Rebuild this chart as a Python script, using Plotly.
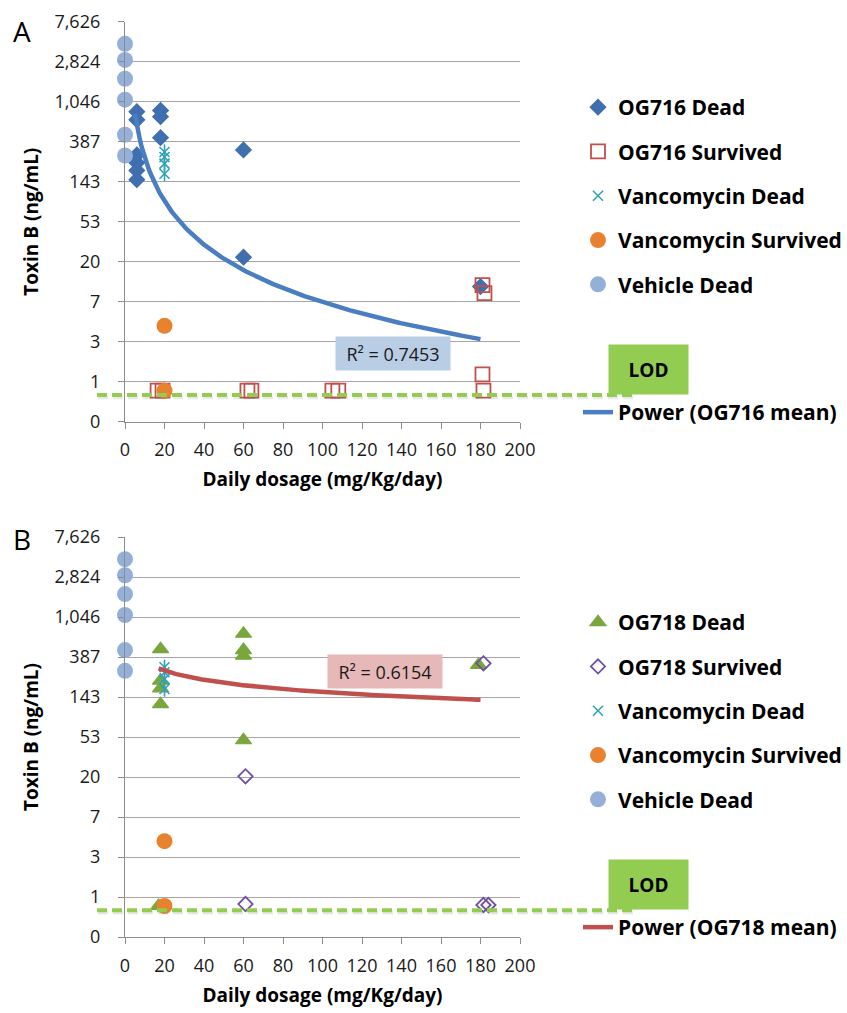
import numpy as np
import plotly.graph_objects as go

W, H = 847, 1013

# ---- data: daily dose (mg/Kg/day) vs toxin B (ng/mL) ----
vehicle_dose = [0, 0, 0, 0, 0, 0]
vehicle_toxin = [4400, 2950, 1850, 1100, 460, 275]

vanco_dead_dose = [20, 20, 20, 20]
vanco_dead_toxin = [300, 265, 225, 175]
vanco_surv_dose = [20, 20]
vanco_surv_toxin = [4, 0.8]

og716_dead_dose = [6, 6, 6, 6, 6, 6, 18, 18, 18, 60, 60, 180]
og716_dead_toxin = [816, 668, 279, 230, 190, 151, 841, 722, 428, 316, 22, 10.6]
og716_surv_dose = [16.5, 19, 62, 64, 105, 108, 181, 182, 181, 181.5]
og716_surv_toxin = [0.8, 0.8, 0.8, 0.8, 0.8, 0.8, 11, 9, 1.2, 0.8]

og718_dead_dose = [18, 18, 18, 18, 17, 60, 60, 60, 60, 179]
og718_dead_toxin = [470, 215, 178, 120, 0.8, 690, 460, 400, 49, 318]
og718_surv_dose = [61, 61, 181.5, 181.5, 184]
og718_surv_toxin = [20, 0.84, 331, 0.82, 0.82]

# power trendlines  y = a * x^b  fitted to the group means
og716_fit = {"a": 9500, "b": -1.56, "x0": 5, "x1": 180, "r2": "0.7453"}
og718_fit = {"a": 742, "b": -0.33, "x0": 17, "x1": 180, "r2": "0.6154"}

lod_value = 0.72

# log axis with base 2.7
log_base = 2.7
tick_exp = list(range(-1, 10))
tick_text = ["0", "1", "3", "7", "20", "53", "143", "387", "1,046", "2,824", "7,626"]
x_ticks = list(range(0, 201, 20))

# ---- styling ----
FONT = "Open Sans"
C_OG716 = "#3F6FAE"
C_OG716_S = "#C0504D"
C_VANCO_D = "#2FA3B8"
C_VANCO_S = "#E8822E"
C_VEH = "#95B0D8"
C_OG718 = "#7AA63E"
C_OG718_S = "#7050A0"
C_FIT_A = "#4A7EC0"
C_FIT_B = "#C0504D"
C_LOD = "#92CC50"
GRID = "#A6A6A6"
AXIS = "#8C8C8C"

x_dom = [125 / W, 520 / W]
panels = {
    "A": {"y_dom": [1 - 421.7 / H, 1 - 21.7 / H], "xa": "x", "ya": "y"},
    "B": {"y_dom": [1 - 937 / H, 1 - 537 / H], "xa": "x2", "ya": "y2"},
}
y_range = [np.log10(log_base ** tick_exp[0]), np.log10(log_base ** tick_exp[-1])]


def py(px):
    return 1 - px / H


def px_x(px):
    return px / W


def value_to_paper(v, dom):
    f = (np.log10(v) - y_range[0]) / (y_range[1] - y_range[0])
    return dom[0] + f * (dom[1] - dom[0])


fig = go.Figure()


def add_panel(xa, ya, legend, og_dead_dose, og_dead_tox, og_surv_dose, og_surv_tox,
              dead_name, surv_name, dead_sym, surv_sym, dead_col, surv_col, dead_size, surv_size,
              fit, fit_col, fit_name, fit_legend):
    def sc(**kw):
        fig.add_trace(go.Scatter(mode="markers", xaxis=xa, yaxis=ya, cliponaxis=False,
                                 legend=legend, **kw))

    sc(x=og_dead_dose, y=og_dead_tox, name=dead_name, legendgroup=legend + "1",
       marker=dict(symbol=dead_sym, size=dead_size, color=dead_col,
                   line=dict(width=1.2, color=dead_col)))
    sc(x=og_surv_dose, y=og_surv_tox, name=surv_name, legendgroup=legend + "2",
       marker=dict(symbol=surv_sym, size=surv_size, color=surv_col,
                   line=dict(width=1.8, color=surv_col)))
    sc(x=vanco_dead_dose, y=vanco_dead_toxin, name="Vancomycin Dead", legendgroup=legend + "3",
       marker=dict(symbol="x-thin-open", size=10, color=C_VANCO_D,
                   line=dict(width=1.6, color=C_VANCO_D)))
    sc(x=vanco_dead_dose, y=vanco_dead_toxin, showlegend=False, legendgroup=legend + "3",
       marker=dict(symbol="line-ns-open", size=11, color=C_VANCO_D,
                   line=dict(width=1.6, color=C_VANCO_D)))
    sc(x=vanco_surv_dose, y=vanco_surv_toxin, name="Vancomycin Survived", legendgroup=legend + "4",
       marker=dict(symbol="circle", size=16, color=C_VANCO_S))
    sc(x=vehicle_dose, y=vehicle_toxin, name="Vehicle Dead", legendgroup=legend + "5",
       marker=dict(symbol="circle", size=16, color=C_VEH))

    xs = np.linspace(fit["x0"], fit["x1"], 200)
    fig.add_trace(go.Scatter(x=xs, y=fit["a"] * xs ** fit["b"], mode="lines", xaxis=xa, yaxis=ya,
                             name=fit_name, legend=fit_legend,
                             line=dict(color=fit_col, width=4.5)))


add_panel("x", "y", "legend", og716_dead_dose, og716_dead_toxin, og716_surv_dose, og716_surv_toxin,
          "OG716 Dead", "OG716 Survived", "diamond", "square-open", C_OG716, C_OG716_S, 12, 14,
          og716_fit, C_FIT_A, "Power (OG716 mean)", "legend3")
add_panel("x2", "y2", "legend2", og718_dead_dose, og718_dead_toxin, og718_surv_dose, og718_surv_toxin,
          "OG718 Dead", "OG718 Survived", "triangle-up", "diamond-open", C_OG718, C_OG718_S, 14, 11,
          og718_fit, C_FIT_B, "Power (OG718 mean)", "legend4")

axis_font = dict(family=FONT, size=18, color="#1A1A1A")
title_font = dict(family=FONT, size=19, color="#000000", weight="bold")

layout = dict(
    width=W, height=H, margin=dict(l=0, r=0, t=0, b=0),
    paper_bgcolor="white", plot_bgcolor="white",
    font=dict(family=FONT, color="#000000"),
)
for key, p in panels.items():
    xk = "xaxis" if key == "A" else "xaxis2"
    yk = "yaxis" if key == "A" else "yaxis2"
    layout[xk] = dict(
        domain=x_dom, anchor=p["ya"], range=[0, 200], tickvals=x_ticks, automargin=False,
        showgrid=False, zeroline=False, showline=True, linecolor=AXIS, linewidth=1.3,
        ticks="outside", ticklen=6, tickcolor=AXIS, tickwidth=1.3, tickfont=axis_font,
        ticklabelstandoff=6,
        title=dict(text="Daily dosage (mg/Kg/day)", font=title_font, standoff=12),
    )
    layout[yk] = dict(
        domain=p["y_dom"], anchor=p["xa"], type="log", range=y_range, automargin=False,
        tickvals=[log_base ** k for k in tick_exp], ticktext=tick_text,
        showgrid=True, gridcolor=GRID, gridwidth=1.3, zeroline=False,
        showline=True, linecolor=AXIS, linewidth=1.3,
        ticks="outside", ticklen=6, tickcolor=AXIS, tickwidth=1.3, tickfont=axis_font,
        ticklabelstandoff=14,
        title=dict(text="Toxin B (ng/mL)", font=title_font, standoff=10),
    )

legend_font = dict(family=FONT, size=21, color="#000000", weight="bold")
leg_common = dict(font=legend_font, bgcolor="rgba(0,0,0,0)", traceorder="grouped",
                  tracegroupgap=14, xanchor="left", yanchor="top", itemsizing="trace")
layout["legend"] = dict(x=px_x(578), y=py(87), **leg_common)
layout["legend2"] = dict(x=px_x(578), y=py(602), **leg_common)
layout["legend3"] = dict(x=px_x(578), y=py(392), font=legend_font, bgcolor="rgba(0,0,0,0)",
                         xanchor="left", yanchor="top")
layout["legend4"] = dict(x=px_x(578), y=py(907), font=legend_font, bgcolor="rgba(0,0,0,0)",
                         xanchor="left", yanchor="top")

shapes = []
annotations = []
for key, fit, box_col, box_x, box_y in (
    ("A", og716_fit, "#B9CDE5", 392.5, 353.8),
    ("B", og718_fit, "#E6B9B8", 384.5, 671),
):
    dom = panels[key]["y_dom"]
    lod_y = value_to_paper(lod_value, dom)
    # soft shadow under the LOD line
    shapes.append(dict(type="line", xref="paper", yref="paper", x0=px_x(98), x1=px_x(638),
                       y0=lod_y - 2.5 / H, y1=lod_y - 2.5 / H,
                       line=dict(color="rgba(120,120,120,0.16)", width=3.5, dash="10px,5px")))
    shapes.append(dict(type="line", xref="paper", yref="paper", x0=px_x(97), x1=px_x(637),
                       y0=lod_y, y1=lod_y,
                       line=dict(color=C_LOD, width=4, dash="10px,5px")))
    # LOD label box
    lod_top_px = (1 - lod_y) * H - 2
    annotations.append(dict(xref="paper", yref="paper", x=px_x(648.5), y=py(lod_top_px - 23.5),
                            text="<b>LOD</b>", showarrow=False, width=77, height=47,
                            bgcolor=C_LOD, font=dict(family=FONT, size=19, color="#000000"),
                            xanchor="center", yanchor="middle"))
    # R² label
    annotations.append(dict(xref="paper", yref="paper", x=px_x(box_x), y=py(box_y),
                            text="R² = " + fit["r2"], showarrow=False, width=112, height=31,
                            bgcolor=box_col, font=dict(family=FONT, size=18, color="#1A1A1A"),
                            xanchor="center", yanchor="middle"))

annotations.append(dict(xref="paper", yref="paper", x=px_x(21.5), y=py(31), text="A",
                        showarrow=False, font=dict(family=FONT, size=28, color="#000000"),
                        xanchor="center", yanchor="middle"))
annotations.append(dict(xref="paper", yref="paper", x=px_x(22), y=py(539), text="B",
                        showarrow=False, font=dict(family=FONT, size=28, color="#000000"),
                        xanchor="center", yanchor="middle"))

layout["shapes"] = shapes
layout["annotations"] = annotations
fig.update_layout(**layout)

fig.write_html("out.html")
